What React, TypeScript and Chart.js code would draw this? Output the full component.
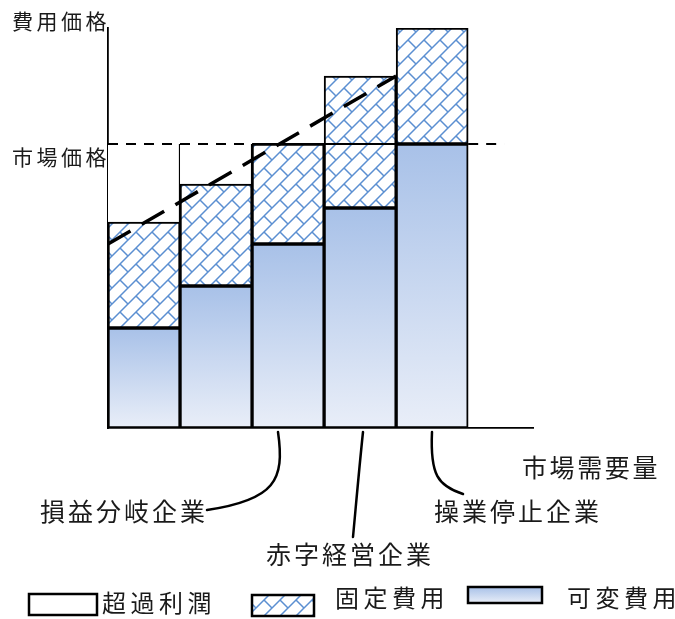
import React, { useEffect, useRef } from 'react';
import { Chart, registerables } from 'chart.js';

Chart.register(...registerables);

// Five firms, ordered from the lowest to the highest unit cost
const firms = ['F1', 'F2', 'F3', 'F4', 'F5'];
const variableCost = [25, 35.5, 46, 55, 71];
const fixedCost = [26.5, 25.5, 25, 33, 29];
const marketPrice = 71;

// Rising average-cost trend, x measured in firm widths from the axis
const trendX = [0, 4];
const trendY = [46, 88];

const seriesNames = ['超過利潤', '固定費用', '可変費用'];
const axisTitleY = '費用価格';
const priceTitle = '市場価格';
const axisTitleX = '市場需要量';
const firmKinds = ['損益分岐企業', '赤字経営企業', '操業停止企業'];

const yMax = 100;
const xMax = 5.9;

const FONT = '"Noto Sans CJK JP", "Noto Sans", sans-serif';
const INK = '#1a1a1a';
const HATCH_BLUE = '#5b8fd1';
const GRAD_TOP = '#a8c1e8';
const GRAD_BOTTOM = '#e9eef8';

const totals = variableCost.map((v, i) => v + fixedCost[i]);
const excessProfit = totals.map((t) => (t < marketPrice ? marketPrice - t : null));
const reachStart = totals.findIndex((t) => t >= marketPrice);

function makeHatch(): CanvasPattern | string {
  const c = document.createElement('canvas');
  c.width = 16;
  c.height = 16;
  const g = c.getContext('2d');
  if (!g) return '#dbe6f5';
  g.fillStyle = '#ffffff';
  g.fillRect(0, 0, 16, 16);
  g.strokeStyle = HATCH_BLUE;
  g.lineWidth = 1.5;
  g.beginPath();
  g.moveTo(-1, 17);
  g.lineTo(17, -1);
  g.moveTo(-1, 1);
  g.lineTo(1, -1);
  g.moveTo(15, 17);
  g.lineTo(17, 15);
  g.moveTo(8, 8);
  g.lineTo(16, 16);
  g.stroke();
  return g.createPattern(c, 'repeat') || '#dbe6f5';
}

function verticalGradient(ctx: CanvasRenderingContext2D, top: number, bottom: number) {
  if (!isFinite(top) || !isFinite(bottom) || top === bottom) return GRAD_TOP;
  const g = ctx.createLinearGradient(0, top, 0, bottom);
  g.addColorStop(0, GRAD_TOP);
  g.addColorStop(1, GRAD_BOTTOM);
  return g;
}

function drawText(
  ctx: CanvasRenderingContext2D,
  text: string,
  x: number,
  y: number,
  size: number,
  spacing: number
) {
  ctx.save();
  ctx.font = `${size}px ${FONT}`;
  (ctx as any).letterSpacing = `${spacing}px`;
  ctx.fillStyle = INK;
  ctx.textAlign = 'left';
  ctx.textBaseline = 'middle';
  ctx.fillText(text, x, y);
  (ctx as any).letterSpacing = '0px';
  ctx.restore();
}

// Leader curves from the firm bars down to their captions
const leaderPaths: number[][][] = [
  [[278, 432], [285, 480], [275, 500], [207, 510]],
  [[363, 432], [359, 470], [356, 505], [353, 537]],
  [[432, 432], [430, 475], [438, 486], [463, 494]],
];

export default function App() {
  const canvasRef = useRef<HTMLCanvasElement | null>(null);

  useEffect(() => {
    const canvas = canvasRef.current;
    if (!canvas) return;
    const hatch = makeHatch();

    const overlay = {
      id: 'overlay',
      afterDraw(chart: any) {
        const ctx: CanvasRenderingContext2D = chart.ctx;
        const ys = chart.scales.y;
        const area = chart.chartArea;
        const pricePx = ys.getPixelForValue(marketPrice);

        // axis captions
        drawText(ctx, axisTitleY, 12, area.top - 7, 21, 3.5);
        drawText(ctx, priceTitle, 12, pricePx + 13, 21, 3.5);
        drawText(ctx, axisTitleX, 522, 467, 25, 2.6);

        // firm captions with leader curves
        ctx.save();
        ctx.strokeStyle = '#000';
        ctx.lineWidth = 2.5;
        ctx.lineCap = 'round';
        leaderPaths.forEach((p) => {
          ctx.beginPath();
          ctx.moveTo(p[0][0], p[0][1]);
          ctx.bezierCurveTo(p[1][0], p[1][1], p[2][0], p[2][1], p[3][0], p[3][1]);
          ctx.stroke();
        });
        ctx.restore();
        drawText(ctx, firmKinds[0], 40, 511, 25, 3);
        drawText(ctx, firmKinds[1], 266, 554, 25, 3);
        drawText(ctx, firmKinds[2], 434, 511, 25, 3);

        // legend
        const boxes: [number, number, number, number][] = [
          [29, 594, 68, 21],
          [252, 595, 62, 21],
          [468, 587, 74, 16],
        ];
        const fills = [
          '#ffffff',
          hatch,
          verticalGradient(ctx, boxes[2][1], boxes[2][1] + boxes[2][3]),
        ];
        boxes.forEach((b, i) => {
          ctx.save();
          ctx.fillStyle = fills[i] as any;
          ctx.fillRect(b[0], b[1], b[2], b[3]);
          ctx.strokeStyle = '#000';
          ctx.lineWidth = 2.5;
          ctx.strokeRect(b[0], b[1], b[2], b[3]);
          ctx.restore();
        });
        drawText(ctx, seriesNames[0], 102, 603, 24, 4.5);
        drawText(ctx, seriesNames[1], 335, 598, 24, 4.5);
        drawText(ctx, seriesNames[2], 567, 598, 24, 4.5);
      },
    };

    const barPoints = (vals: (number | null)[]) =>
      vals.map((v, i) => ({ x: i + 0.5, y: v }));

    const chart = new Chart(canvas, {
      type: 'bar',
      data: {
        datasets: [
          {
            type: 'line',
            label: 'average cost',
            data: trendX.map((x, i) => ({ x, y: trendY[i] })),
            borderColor: '#000',
            borderWidth: 3.5,
            borderDash: [26, 13],
            pointRadius: 0,
            fill: false,
            order: 0,
            stack: 'trend',
          } as any,
          {
            type: 'line',
            label: priceTitle,
            data: [0, reachStart, firms.length, firms.length + 0.5].map((x) => ({
              x,
              y: marketPrice,
            })),
            borderColor: '#000',
            borderWidth: 2,
            pointRadius: 0,
            fill: false,
            order: 0,
            stack: 'price',
            segment: {
              borderDash: (s: any) =>
                s.p0.parsed.x >= reachStart && s.p1.parsed.x <= firms.length ? [] : [10, 8],
            },
          } as any,
          {
            label: seriesNames[2],
            data: barPoints(variableCost),
            backgroundColor: (c: any) => {
              const ys = c.chart.scales && c.chart.scales.y;
              if (!ys || c.dataIndex == null) return GRAD_TOP;
              return verticalGradient(
                c.chart.ctx,
                ys.getPixelForValue(variableCost[c.dataIndex]),
                ys.getPixelForValue(0)
              );
            },
            borderColor: '#000',
            borderWidth: 2,
            borderSkipped: false,
            order: 1,
            stack: 'cost',
          },
          {
            label: seriesNames[1],
            data: barPoints(fixedCost),
            backgroundColor: hatch as any,
            borderColor: '#000',
            borderWidth: 2,
            borderSkipped: false,
            order: 1,
            stack: 'cost',
          },
          {
            label: seriesNames[0],
            data: barPoints(excessProfit),
            backgroundColor: '#ffffff',
            borderColor: '#000',
            borderWidth: { top: 0, left: 0, bottom: 0, right: 1.5 },
            borderSkipped: false,
            order: 1,
            stack: 'cost',
          } as any,
        ],
      },
      options: {
        responsive: false,
        animation: false,
        devicePixelRatio: 1,
        layout: { padding: { left: 108, right: 142, top: 28, bottom: 191 } },
        datasets: { bar: { barPercentage: 1, categoryPercentage: 1 } },
        plugins: {
          legend: { display: false },
          tooltip: { enabled: false },
        },
        scales: {
          x: {
            type: 'linear',
            min: 0,
            max: xMax,
            stacked: true,
            offset: false,
            grid: { display: false },
            ticks: { display: false },
            border: { display: true, color: '#000', width: 1.8 },
            afterBuildTicks: (s: any) => {
              s.ticks = firms.map((_, i) => ({ value: i }));
            },
            afterFit: (s: any) => {
              s.height = 0;
            },
          },
          y: {
            type: 'linear',
            min: 0,
            max: yMax,
            stacked: true,
            grid: { display: false },
            ticks: { display: false },
            border: { display: true, color: '#000', width: 1.8 },
            afterFit: (s: any) => {
              s.width = 0;
            },
          },
        },
      },
      plugins: [overlay],
    });
    // gradients depend on the laid-out scale, so refresh once layout exists
    chart.update();

    let alive = true;
    if ((document as any).fonts && (document as any).fonts.load) {
      (document as any).fonts.load(`24px ${FONT}`, '費用').then(() => {
        if (alive) chart.draw();
      });
    }

    return () => {
      alive = false;
      chart.destroy();
    };
  }, []);

  return (
    <div style={{ position: 'absolute', left: 0, top: 0, width: 675, height: 619 }}>
      <canvas ref={canvasRef} width={675} height={619} />
    </div>
  );
}
